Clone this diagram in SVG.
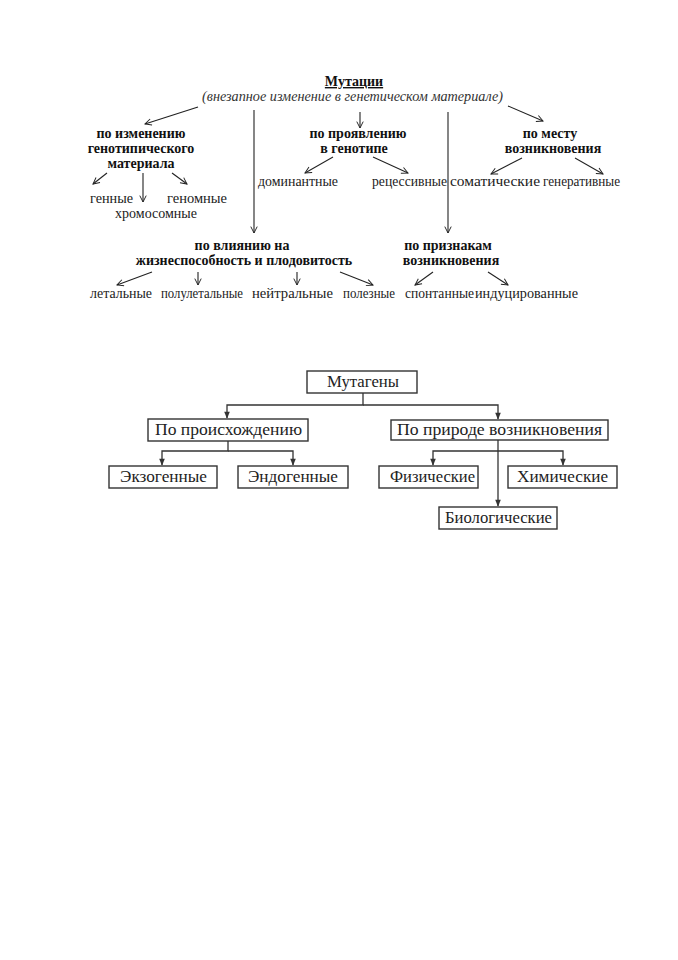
<svg xmlns="http://www.w3.org/2000/svg" width="678" height="960" viewBox="0 0 678 960">
<style>
.t{font-family:"Liberation Serif","Times New Roman",serif;font-size:15px;fill:#222}
.b{font-family:"Liberation Serif","Times New Roman",serif;font-size:14px;font-weight:bold;fill:#111;text-anchor:middle}
.i{font-family:"Liberation Serif","Times New Roman",serif;font-size:14.5px;font-style:italic;fill:#333}
.bx{fill:#fff;stroke:#333;stroke-width:1.4}
.bt{font-family:"Liberation Serif","Times New Roman",serif;font-size:16px;fill:#222;text-anchor:middle}
.ln{fill:none;stroke:#222;stroke-width:1.1}
.ln2{fill:none;stroke:#333;stroke-width:1.3}
</style>
<defs>
<marker id="oa" viewBox="0 0 10 10" refX="9" refY="5" markerWidth="8" markerHeight="8" orient="auto" markerUnits="userSpaceOnUse">
<path d="M1,1 L9,5 L1,9" fill="none" stroke="#222" stroke-width="1.2"/>
</marker>
<marker id="fa" viewBox="0 0 10 10" refX="9" refY="5" markerWidth="8" markerHeight="7" orient="auto" markerUnits="userSpaceOnUse">
<path d="M0,1 L10,5 L0,9 z" fill="#333"/>
</marker>
</defs>
<rect width="678" height="960" fill="#fff"/>

<g id="connectors-top">
<line class="ln" x1="198" y1="107" x2="145" y2="124" marker-end="url(#oa)"/>
<line class="ln" x1="360" y1="112" x2="360" y2="128" marker-end="url(#oa)"/>
<line class="ln" x1="508" y1="106" x2="543" y2="121" marker-end="url(#oa)"/>
<line class="ln" x1="254" y1="110" x2="254" y2="233" marker-end="url(#oa)"/>
<line class="ln" x1="448" y1="112" x2="448" y2="233" marker-end="url(#oa)"/>
<line class="ln" x1="107" y1="173" x2="93" y2="184" marker-end="url(#oa)"/>
<line class="ln" x1="143" y1="173" x2="143" y2="202" marker-end="url(#oa)"/>
<line class="ln" x1="172" y1="173" x2="187" y2="184" marker-end="url(#oa)"/>
<line class="ln" x1="333" y1="157" x2="305" y2="173" marker-end="url(#oa)"/>
<line class="ln" x1="373" y1="157" x2="408" y2="173" marker-end="url(#oa)"/>
<line class="ln" x1="522" y1="158" x2="491" y2="174" marker-end="url(#oa)"/>
<line class="ln" x1="575" y1="158" x2="603" y2="174" marker-end="url(#oa)"/>
<line class="ln" x1="152" y1="272" x2="117" y2="285" marker-end="url(#oa)"/>
<line class="ln" x1="198" y1="272" x2="198" y2="285" marker-end="url(#oa)"/>
<line class="ln" x1="297" y1="272" x2="297" y2="285" marker-end="url(#oa)"/>
<line class="ln" x1="340" y1="272" x2="373" y2="285" marker-end="url(#oa)"/>
<line class="ln" x1="433" y1="272" x2="415" y2="285" marker-end="url(#oa)"/>
<line class="ln" x1="488" y1="272" x2="508" y2="285" marker-end="url(#oa)"/>
</g>

<g id="mutacii">
<text x="354" y="86" class="b" font-size="16" text-decoration="underline">Мутации</text>
<text x="202" y="101" class="i" textLength="301" lengthAdjust="spacingAndGlyphs">(внезапное изменение в генетическом материале)</text>
</g>
<g id="po-izmeneniyu">
<text x="141" y="138" class="b">по изменению</text>
<text x="141" y="153" class="b">генотипического</text>
<text x="141" y="168" class="b">материала</text>
</g>
<g id="gennye"><text x="90" y="203" class="t" textLength="43" lengthAdjust="spacingAndGlyphs">генные</text></g>
<g id="genomnye"><text x="167" y="203" class="t" textLength="60" lengthAdjust="spacingAndGlyphs">геномные</text></g>
<g id="hromosomnye"><text x="115" y="218" class="t" textLength="82" lengthAdjust="spacingAndGlyphs">хромосомные</text></g>
<g id="po-proyavleniyu">
<text x="358" y="138" class="b">по проявлению</text>
<text x="354" y="153" class="b">в генотипе</text>
</g>
<g id="dominantnye"><text x="258" y="186" class="t" textLength="80" lengthAdjust="spacingAndGlyphs">доминантные</text></g>
<g id="recessivnye"><text x="372" y="186" class="t" textLength="75" lengthAdjust="spacingAndGlyphs">рецессивные</text></g>
<g id="po-mestu">
<text x="550" y="138" class="b">по месту</text>
<text x="553" y="153" class="b">возникновения</text>
</g>
<g id="somaticheskie"><text x="450" y="186" class="t" textLength="90" lengthAdjust="spacingAndGlyphs">соматические</text></g>
<g id="generativnye"><text x="543" y="186" class="t" textLength="77" lengthAdjust="spacingAndGlyphs">генеративные</text></g>
<g id="po-vliyaniyu">
<text x="242" y="250" class="b">по влиянию на</text>
<text x="244" y="265" class="b">жизнеспособность и плодовитость</text>
</g>
<g id="po-priznakam">
<text x="448" y="250" class="b">по признакам</text>
<text x="451" y="265" class="b">возникновения</text>
</g>
<g id="letalnye"><text x="90" y="298" class="t" textLength="62" lengthAdjust="spacingAndGlyphs">летальные</text></g>
<g id="poluletalnye"><text x="161" y="298" class="t" textLength="82" lengthAdjust="spacingAndGlyphs">полулетальные</text></g>
<g id="neitralnye"><text x="252" y="298" class="t" textLength="81" lengthAdjust="spacingAndGlyphs">нейтральные</text></g>
<g id="poleznye"><text x="343" y="298" class="t" textLength="52" lengthAdjust="spacingAndGlyphs">полезные</text></g>
<g id="spontannye"><text x="405" y="298" class="t" textLength="69" lengthAdjust="spacingAndGlyphs">спонтанные</text></g>
<g id="inducirovannye"><text x="475" y="298" class="t" textLength="103" lengthAdjust="spacingAndGlyphs">индуцированные</text></g>

<g id="connectors-bottom">
<path class="ln2" d="M363,393 V405 H227 V418" marker-end="url(#fa)"/>
<path class="ln2" d="M363,405 H498 V419" marker-end="url(#fa)"/>
<path class="ln2" d="M228,441 V451 H162 V465" marker-end="url(#fa)"/>
<path class="ln2" d="M228,451 H293 V465" marker-end="url(#fa)"/>
<path class="ln2" d="M498,440 V506" marker-end="url(#fa)"/>
<path class="ln2" d="M498,451 H433 V465" marker-end="url(#fa)"/>
<path class="ln2" d="M498,451 H563 V465" marker-end="url(#fa)"/>
</g>
<g id="mutageny">
<rect class="bx" x="307" y="371" width="110" height="22"/>
<text x="363" y="387" class="bt" textLength="72" lengthAdjust="spacingAndGlyphs">Мутагены</text>
</g>
<g id="po-proishozhdeniyu">
<rect class="bx" x="148" y="419" width="160" height="22"/>
<text x="228.5" y="435" class="bt" textLength="147" lengthAdjust="spacingAndGlyphs">По происхождению</text>
</g>
<g id="po-prirode">
<rect class="bx" x="391" y="420" width="217" height="20"/>
<text x="499.5" y="435" class="bt" textLength="205" lengthAdjust="spacingAndGlyphs">По природе возникновения</text>
</g>
<g id="ekzogennye">
<rect class="bx" x="109" y="466" width="108" height="22"/>
<text x="163.5" y="482" class="bt" textLength="87" lengthAdjust="spacingAndGlyphs">Экзогенные</text>
</g>
<g id="endogennye">
<rect class="bx" x="238" y="466" width="110" height="22"/>
<text x="293" y="482" class="bt" textLength="90" lengthAdjust="spacingAndGlyphs">Эндогенные</text>
</g>
<g id="fizicheskie">
<rect class="bx" x="379" y="466" width="99" height="22"/>
<text x="432.5" y="482" class="bt" textLength="85" lengthAdjust="spacingAndGlyphs">Физические</text>
</g>
<g id="himicheskie">
<rect class="bx" x="508" y="466" width="109" height="22"/>
<text x="562.5" y="482" class="bt" textLength="91" lengthAdjust="spacingAndGlyphs">Химические</text>
</g>
<g id="biologicheskie">
<rect class="bx" x="439" y="507" width="118" height="22"/>
<text x="498.5" y="523" class="bt" textLength="107" lengthAdjust="spacingAndGlyphs">Биологические</text>
</g>
</svg>
